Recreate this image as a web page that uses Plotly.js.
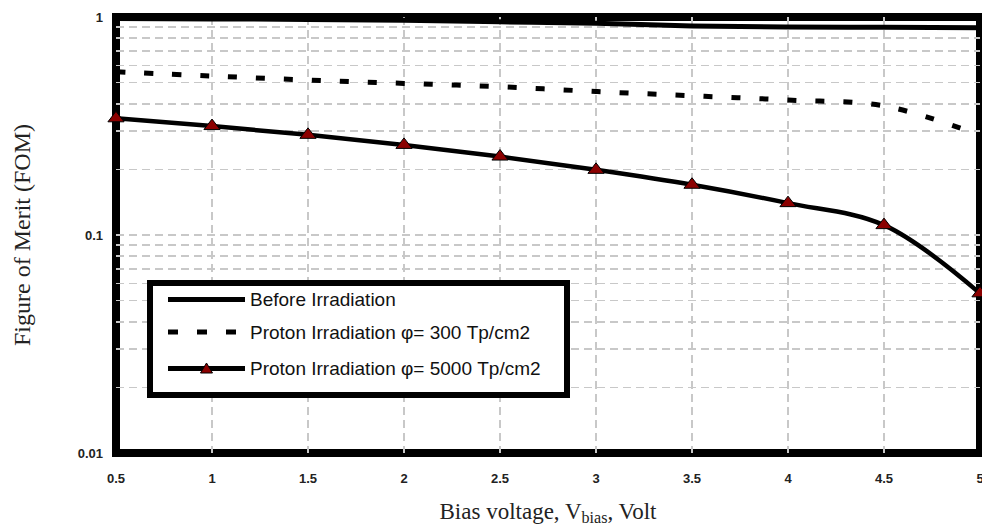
<!DOCTYPE html>
<html>
<head>
<meta charset="utf-8">
<script src="https://cdn.plot.ly/plotly-3.0.1.min.js"></script>
<style>html,body{margin:0;padding:0;background:#fff;}#chart{width:982px;height:532px;}</style>
</head>
<body>
<div id="chart"></div>
<script>
// Bias voltage (V)
const biasVoltage = [0.5, 1, 1.5, 2, 2.5, 3, 3.5, 4, 4.5, 5];
// Figure of merit values
const fomBefore = [0.985, 0.98, 0.975, 0.965, 0.95, 0.935, 0.91, 0.90, 0.897, 0.893];
const fom300 = [0.561, 0.536, 0.514, 0.496, 0.479, 0.455, 0.435, 0.416, 0.391, 0.287];
const fom5000 = [0.343, 0.316, 0.288, 0.259, 0.229, 0.199, 0.170, 0.140, 0.111, 0.054];
const seriesNames = [
  "Before Irradiation",
  "Proton Irradiation \u03c6= 300 Tp/cm2",
  "Proton Irradiation \u03c6= 5000 Tp/cm2"
];
const xTickVals = [0.5, 1, 1.5, 2, 2.5, 3, 3.5, 4, 4.5, 5];
const xTickText = ["0.5", "1", "1.5", "2", "2.5", "3", "3.5", "4", "4.5", "5"];
const yTickVals = [0.01, 0.1, 1];
const yTickText = ["0.01", "0.1", "1"];
const yMinorVals = [0.02,0.03,0.04,0.05,0.06,0.07,0.08,0.09,0.2,0.3,0.4,0.5,0.6,0.7,0.8,0.9];

const W = 982, H = 532, L = 116, R = 2, T = 17, B = 79;
const pw = W - L - R, ph = H - T - B;
const px = v => (v - L) / pw;
const py = v => (H - B - v) / ph;

const traces = [
  {x: biasVoltage, y: fomBefore, name: seriesNames[0], mode: "lines",
   line: {color: "#000", width: 5, shape: "spline"}},
  {x: biasVoltage, y: fom300, name: seriesNames[1], mode: "lines",
   line: {color: "#000", width: 5, dash: "9px,19px", shape: "spline"}},
  {x: biasVoltage, y: fom5000, name: seriesNames[2], mode: "lines+markers",
   line: {color: "#000", width: 4.5, shape: "spline"},
   marker: {symbol: "triangle-up", size: 14, color: "#8b0000", line: {color: "#000", width: 1}},
   cliponaxis: false}
];

const gridStyle = {gridcolor: "#c8c8c8", gridwidth: 1.5, griddash: "8px,5px"};
const tickFont = {family: "Liberation Sans, Arial, sans-serif", size: 13, color: "#222", weight: "bold"};
const legFont = {family: "Liberation Sans, Arial, sans-serif", size: 19, color: "#111"};

const rows = [299.5, 332, 368.5];
const lx0 = px(168), lx1 = px(245);
const shapes = [
  {type: "rect", xref: "paper", yref: "paper", x0: 0, x1: 1, y0: 0, y1: 1,
   line: {color: "#000", width: 8}, layer: "between"},
  {type: "rect", xref: "paper", yref: "paper", x0: px(150), x1: px(567), y0: py(395), y1: py(283),
   line: {color: "#000", width: 6}, fillcolor: "#fff", layer: "above"},
  {type: "line", xref: "paper", yref: "paper", x0: lx0, x1: lx1, y0: py(rows[0]), y1: py(rows[0]),
   line: {color: "#000", width: 5}, layer: "above"},
  {type: "line", xref: "paper", yref: "paper", x0: lx0, x1: lx1, y0: py(rows[1]), y1: py(rows[1]),
   line: {color: "#000", width: 5, dash: "10px,19px"}, layer: "above"},
  {type: "line", xref: "paper", yref: "paper", x0: lx0, x1: lx1, y0: py(rows[2]), y1: py(rows[2]),
   line: {color: "#000", width: 5}, layer: "above"},
  {type: "path", xref: "paper", yref: "paper", layer: "above",
   path: "M" + px(206.5) + "," + py(rows[2] - 5.5) + " L" + px(212.5) + "," + py(rows[2] + 4.5) +
         " L" + px(200.5) + "," + py(rows[2] + 4.5) + " Z",
   fillcolor: "#8b0000", line: {color: "#000", width: 1}}
];

const annotations = seriesNames.map((t, i) => ({
  text: t, xref: "paper", yref: "paper", x: px(248), y: py(rows[i]),
  xanchor: "left", yanchor: "middle", showarrow: false, font: legFont
}));

const layout = {
  width: W, height: H,
  margin: {l: L, r: R, t: T, b: B, pad: 0},
  paper_bgcolor: "#fff", plot_bgcolor: "#fff",
  showlegend: false,
  xaxis: Object.assign({
    range: [0.5, 5], tickmode: "array", tickvals: xTickVals, ticktext: xTickText,
    showgrid: true, zeroline: false, showline: false, ticks: "",
    tickfont: tickFont, ticklabelstandoff: 16, ticklabeloverflow: "allow",
    title: {text: "Bias voltage, V<sub>bias</sub>, Volt", standoff: 17,
            font: {family: "Liberation Serif, Times New Roman, serif", size: 23, color: "#222"}}
  }, gridStyle),
  yaxis: Object.assign({
    type: "log", range: [-2, 0], tickmode: "array", tickvals: yTickVals, ticktext: yTickText,
    showgrid: true, zeroline: false, showline: false, ticks: "",
    tickfont: tickFont, ticklabelstandoff: 12, ticklabeloverflow: "allow",
    minor: Object.assign({tickmode: "array", tickvals: yMinorVals, showgrid: true, ticks: ""}, gridStyle),
    title: {text: "Figure of Merit (FOM)", standoff: 40,
            font: {family: "Liberation Serif, Times New Roman, serif", size: 24, color: "#222"}}
  }, gridStyle),
  shapes: shapes,
  annotations: annotations
};

Plotly.newPlot("chart", traces, layout, {displayModeBar: false, staticPlot: true});
</script>
</body>
</html>
